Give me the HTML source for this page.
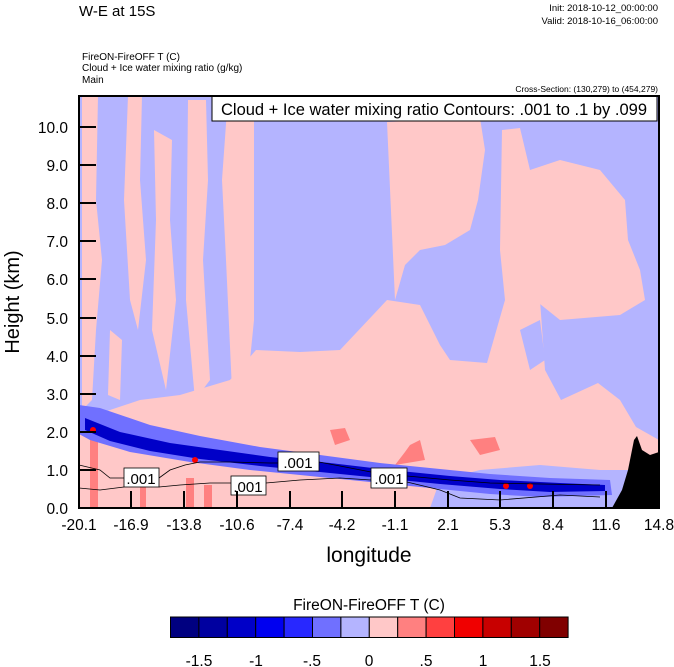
<!DOCTYPE html>
<html><head><meta charset="utf-8"><style>
body{margin:0;background:#fff;}
svg{display:block;font-family:"Liberation Sans",sans-serif;}
</style></head><body>
<svg width="674" height="667" viewBox="0 0 674 667" xmlns="http://www.w3.org/2000/svg">
<defs><clipPath id="c"><rect x="79" y="96" width="580" height="412"/></clipPath></defs>
<text x="79" y="16" font-size="15">W-E at 15S</text>
<text x="658" y="11" font-size="9.5" text-anchor="end">Init: 2018-10-12_00:00:00</text>
<text x="658" y="24" font-size="9.5" text-anchor="end">Valid: 2018-10-16_06:00:00</text>
<text x="82" y="60" font-size="10">FireON-FireOFF T   (C)</text>
<text x="82" y="71" font-size="10">Cloud + Ice water mixing ratio   (g/kg)</text>
<text x="82" y="83" font-size="10">Main</text>
<text x="658" y="92" font-size="8.5" text-anchor="end">Cross-Section: (130,279) to (454,279)</text>
<g clip-path="url(#c)">
<rect x="79" y="96" width="580" height="412" fill="#b4b4ff"/>
<g fill="#ffc8c8">
<path d="M82,96 L98,96 L96,200 L102,260 L96,330 L92,400 L82,410 Z"/>
<path d="M128,96 L142,96 L140,180 L146,260 L138,330 L130,300 L124,200 Z"/>
<path d="M154,130 L172,140 L170,220 L176,300 L166,390 L152,330 L156,220 Z"/>
<path d="M188,100 L206,100 L208,180 L203,260 L210,380 L195,400 L186,300 Z"/>
<path d="M228,96 L254,96 L254,320 L246,400 L232,390 L226,260 L222,180 Z"/>
<path d="M110,330 L122,340 L120,400 L108,395 Z"/>
<path d="M387,122 L480,118 L485,150 L478,200 L470,230 L445,245 L420,250 L405,265 L395,300 Z"/>
<path d="M502,130 L520,128 L530,170 L560,160 L600,170 L625,200 L628,240 L640,270 L645,300 L620,315 L560,320 L535,300 L505,300 L500,250 Z"/>
<path d="M79,420 L110,410 L140,400 L180,395 L230,380 L256,350 L300,352 L340,350 L387,300 L420,305 L440,345 L450,360 L487,363 L505,300 L540,300 L545,370 L561,400 L598,383 L620,400 L636,427 L659,440 L659,470 L600,470 L540,465 L480,470 L440,480 L430,508 L79,508 Z"/>
</g>
<g fill="#b4b4ff">
<path d="M440,482 L659,485 L659,508 L440,508 Z"/>
<path d="M520,330 L540,320 L545,360 L530,370 Z"/>
</g>
<g fill="#ff8080">
<path d="M470,440 L495,437 L500,450 L480,455 Z"/>
<path d="M410,445 L420,440 L425,460 L395,465 L405,452 Z"/>
<path d="M330,430 L345,428 L350,440 L335,445 Z"/>
<rect x="90" y="440" width="8" height="68"/>
<rect x="140" y="470" width="6" height="38"/>
<rect x="186" y="478" width="8" height="30"/>
<rect x="204" y="485" width="8" height="23"/>
</g>
<g fill="#7070ff">
<path d="M79,405 L100,408 L150,425 L200,436 L260,447 L320,455 L380,463 L430,468 L490,474 L550,478 L610,480 L612,495 L540,497 L490,494 L430,488 L370,482 L310,476 L250,470 L190,462 L130,452 L90,440 L79,434 Z"/>
</g>
<g fill="#0000c8">
<path d="M85,418 L120,432 L170,443 L220,450 L270,457 L330,463 L390,470 L450,476 L500,480 L560,483 L605,485 L605,491 L550,492 L500,489 L440,484 L380,478 L320,472 L260,466 L200,459 L150,451 L110,441 L85,430 Z"/>
</g>
<g fill="#ff0000"><circle cx="130" cy="478" r="5"/><circle cx="195" cy="460" r="3"/><circle cx="506" cy="486" r="3"/><circle cx="530" cy="486" r="3"/><circle cx="93" cy="430" r="3"/></g>
<path d="M612,508 L622,490 L628,470 L634,440 L637,436 L642,450 L650,455 L659,452 L659,508 Z" fill="#000"/>
<g fill="none" stroke="#000" stroke-width="0.8">
<path d="M79,465 L100,470 L110,478 L124,478 M159,478 L170,470 L185,465 L200,462 L230,462 L270,463 L278,463 M319,462 L340,466 L371,472 M407,476 L450,480 L490,483 L540,484 L600,485"/>
<path d="M79,488 L100,490 L124,487 M159,487 L180,485 L210,483 L231,483 M266,483 L300,480 L340,478 L371,480 M407,482 L440,490 L460,498 L500,500 L560,495 L600,497"/>
</g>
<g fill="#fff" stroke="#000" stroke-width="0.8">
<rect x="124" y="468" width="35" height="19"/><rect x="231" y="476" width="35" height="19"/>
<rect x="278" y="452" width="41" height="19"/><rect x="371" y="468" width="36" height="20"/>
</g>
<g font-size="15" text-anchor="middle"><text x="141" y="484">.001</text><text x="248" y="492">.001</text><text x="298" y="468">.001</text><text x="389" y="484">.001</text></g>
</g>
<rect x="212" y="96" width="445" height="25" fill="#fff" stroke="#000" stroke-width="1"/>
<text x="434" y="115" font-size="16.5" text-anchor="middle">Cloud + Ice water mixing ratio Contours: .001 to .1 by .099</text>
<rect x="79" y="96" width="580" height="412" fill="none" stroke="#000" stroke-width="2"/>
<g stroke="#000" stroke-width="2">
<path d="M79,127h17M79,165h17M79,203h17M79,241h17M79,279h17M79,318h17M79,356h17M79,394h17M79,432h17M79,470h17"/>
<path d="M131,508v-17M184,508v-17M237,508v-17M290,508v-17M342,508v-17M395,508v-17M448,508v-17M500,508v-17M553,508v-17M606,508v-17"/>
</g>
<g font-size="15.5" text-anchor="end">
<text x="68" y="133">10.0</text><text x="68" y="171">9.0</text><text x="68" y="209">8.0</text><text x="68" y="247">7.0</text><text x="68" y="285">6.0</text><text x="68" y="324">5.0</text><text x="68" y="362">4.0</text><text x="68" y="400">3.0</text><text x="68" y="438">2.0</text><text x="68" y="476">1.0</text><text x="68" y="514">0.0</text>
</g>
<g font-size="15.5" text-anchor="middle">
<text x="79" y="530">-20.1</text><text x="131" y="530">-16.9</text><text x="184" y="530">-13.8</text><text x="237" y="530">-10.6</text><text x="290" y="530">-7.4</text><text x="342" y="530">-4.2</text><text x="395" y="530">-1.1</text><text x="448" y="530">2.1</text><text x="500" y="530">5.3</text><text x="553" y="530">8.4</text><text x="606" y="530">11.6</text><text x="659" y="530">14.8</text>
</g>
<text x="369" y="562" font-size="21" text-anchor="middle">longitude</text>
<text transform="translate(19,302) rotate(-90)" font-size="20" text-anchor="middle">Height (km)</text>
<text x="369" y="610" font-size="15.5" text-anchor="middle">FireON-FireOFF T  (C)</text>
<g stroke="#000" stroke-width="1">
<rect x="170.5" y="617" width="28.4" height="20.5" fill="#000080"/>
<rect x="198.9" y="617" width="28.4" height="20.5" fill="#0000a0"/>
<rect x="227.3" y="617" width="28.4" height="20.5" fill="#0000c8"/>
<rect x="255.7" y="617" width="28.4" height="20.5" fill="#0000f0"/>
<rect x="284.1" y="617" width="28.4" height="20.5" fill="#2828ff"/>
<rect x="312.5" y="617" width="28.4" height="20.5" fill="#7070ff"/>
<rect x="340.9" y="617" width="28.4" height="20.5" fill="#b4b4ff"/>
<rect x="369.3" y="617" width="28.4" height="20.5" fill="#ffc8c8"/>
<rect x="397.7" y="617" width="28.4" height="20.5" fill="#ff8080"/>
<rect x="426.1" y="617" width="28.4" height="20.5" fill="#ff4040"/>
<rect x="454.5" y="617" width="28.4" height="20.5" fill="#f00000"/>
<rect x="482.9" y="617" width="28.4" height="20.5" fill="#c80000"/>
<rect x="511.3" y="617" width="28.4" height="20.5" fill="#a00000"/>
<rect x="539.7" y="617" width="28.4" height="20.5" fill="#800000"/>
</g>
<g font-size="15.5" text-anchor="middle">
<text x="199" y="666">-1.5</text><text x="256" y="666">-1</text><text x="312" y="666">-.5</text><text x="369" y="666">0</text><text x="426" y="666">.5</text><text x="483" y="666">1</text><text x="540" y="666">1.5</text>
</g>
</svg>
</body></html>
